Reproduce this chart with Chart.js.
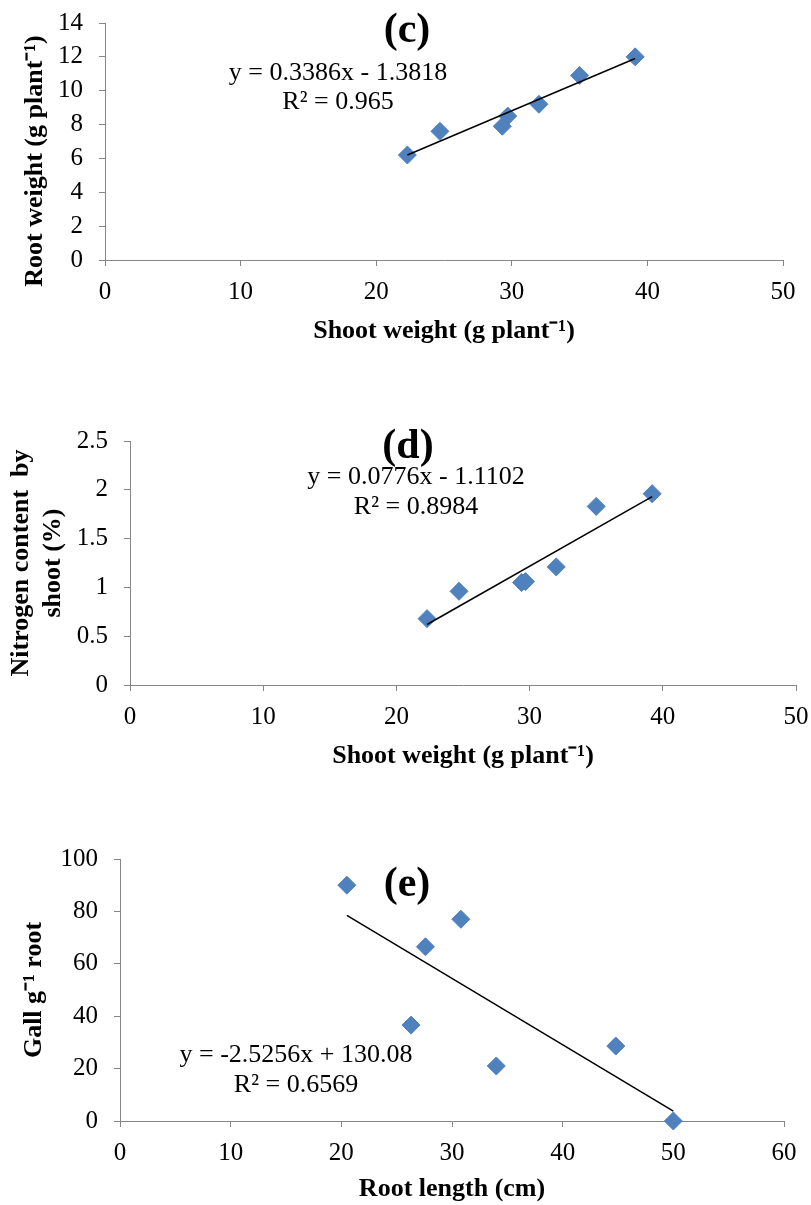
<!DOCTYPE html>
<html>
<head>
<meta charset="utf-8">
<title>Shoot / root relationships</title>
<script src="https://cdn.jsdelivr.net/npm/chart.js@4.4.1/dist/chart.umd.min.js"></script>
<style>
  html, body { margin: 0; padding: 0; background: #fff; overflow: hidden; }
  .panel { position: absolute; left: 0; width: 811px; }
</style>
</head>
<body>
<div class="panel" style="top:0;height:350px"><canvas id="chart-c"></canvas></div>
<div class="panel" style="top:400px;height:375px"><canvas id="chart-d"></canvas></div>
<div class="panel" style="top:830px;height:375px"><canvas id="chart-e"></canvas></div>
<script>
// --- DATA ---
// (c) root weight vs shoot weight
const shootWeightC = [22.3, 24.7, 29.3, 29.7, 32.0, 35.0, 39.1];
const rootWeightC  = [6.2, 7.6, 7.9, 8.5, 9.2, 10.9, 12.0];
const trendXC = [22.3, 39.1];
const trendYC = [6.2, 11.9];
const xTicksC = [0, 10, 20, 30, 40, 50];
const yTicksC = [0, 2, 4, 6, 8, 10, 12, 14];

// (d) nitrogen content vs shoot weight
const shootWeightD = [22.3, 24.7, 29.4, 29.7, 32.0, 35.0, 39.2];
const nitrogenD    = [0.68, 0.96, 1.05, 1.06, 1.21, 1.83, 1.96];
const trendXD = [22.3, 39.2];
const trendYD = [0.62, 1.93];
const xTicksD = [0, 10, 20, 30, 40, 50];
const yTicksD = [0, 0.5, 1, 1.5, 2, 2.5];

// (e) galls vs root length
const rootLengthE = [20.5, 26.3, 27.6, 30.8, 34.0, 44.8, 50.0];
const gallE       = [90, 36.6, 66.5, 77, 21, 28.6, 0];
const trendXE = [20.5, 50.0];
const trendYE = [78.5, 3.8];
const xTicksE = [0, 10, 20, 30, 40, 50, 60];
const yTicksE = [0, 20, 40, 60, 80, 100];

// --- STYLE ---
const SERIF = "'Liberation Serif', 'Times New Roman', serif";
const POINT_BLUE = '#4F81BD';
const AXIS_GREY = '#868686';

// draws the panel letter and the regression equation
const panelText = {
  id: 'panelText',
  afterDraw(chart, args, opts) {
    const ctx = chart.ctx;
    ctx.save();
    ctx.fillStyle = '#000';
    ctx.textAlign = 'center';
    ctx.textBaseline = 'middle';
    (opts.items || []).forEach(t => {
      ctx.font = t.font;
      ctx.fillText(t.text, t.x, t.y);
    });
    ctx.restore();
  }
};

function pairs(xs, ys) {
  return xs.map((x, i) => ({ x: x, y: ys[i] }));
}

function makeChart(id, cfg) {
  const ctx = document.getElementById(id).getContext('2d');
  return new Chart(ctx, {
    type: 'scatter',
    data: {
      datasets: [
        {
          type: 'line',
          data: pairs(cfg.trendX, cfg.trendY),
          borderColor: '#000',
          borderWidth: 1.5,
          pointRadius: 0,
          fill: false,
          clip: false
        },
        {
          data: pairs(cfg.xs, cfg.ys),
          pointStyle: 'rectRot',
          pointRadius: 9,
          backgroundColor: POINT_BLUE,
          borderColor: POINT_BLUE,
          borderWidth: 1,
          clip: false
        }
      ]
    },
    options: {
      responsive: true,
      maintainAspectRatio: false,
      devicePixelRatio: 1,
      animation: false,
      layout: { padding: { left: 0, top: cfg.padTop, right: cfg.padRight, bottom: 0 } },
      plugins: {
        legend: { display: false },
        tooltip: { enabled: false },
        panelText: { items: cfg.texts }
      },
      scales: {
        x: {
          type: 'linear',
          min: cfg.xTicks[0],
          max: cfg.xTicks[cfg.xTicks.length - 1],
          afterBuildTicks: s => { s.ticks = cfg.xTicks.map(v => ({ value: v })); },
          afterFit: s => { s.height = cfg.xHeight; s.paddingLeft = 0; s.paddingRight = 0; },
          grid: { drawOnChartArea: false, drawTicks: true, tickLength: 6, color: AXIS_GREY },
          border: { display: true, color: AXIS_GREY, width: 1 },
          ticks: {
            padding: 11,
            color: '#000',
            font: { family: SERIF, size: 25 },
            callback: v => String(v),
            autoSkip: false,
            maxRotation: 0
          },
          title: {
            display: true,
            text: cfg.xTitle,
            color: '#000',
            font: { family: SERIF, size: 26, weight: 'bold' },
            padding: { top: 0, bottom: cfg.xTitlePad }
          }
        },
        y: {
          type: 'linear',
          min: cfg.yTicks[0],
          max: cfg.yTicks[cfg.yTicks.length - 1],
          afterBuildTicks: s => { s.ticks = cfg.yTicks.map(v => ({ value: v })); },
          afterFit: s => { s.width = cfg.yWidth; s.paddingTop = 0; s.paddingBottom = 0; },
          grid: { drawOnChartArea: false, drawTicks: true, tickLength: 6, color: AXIS_GREY },
          border: { display: true, color: AXIS_GREY, width: 1 },
          ticks: {
            padding: 16,
            color: '#000',
            font: { family: SERIF, size: 25 },
            callback: v => String(v),
            autoSkip: false
          },
          title: {
            display: true,
            text: cfg.yTitle,
            color: '#000',
            font: { family: SERIF, size: 26, weight: 'bold' },
            padding: { top: cfg.yTitlePad, bottom: 0 }
          }
        }
      }
    },
    plugins: [panelText]
  });
}

Chart.defaults.font.family = SERIF;

makeChart('chart-c', {
  xs: shootWeightC, ys: rootWeightC, trendX: trendXC, trendY: trendYC,
  xTicks: xTicksC, yTicks: yTicksC,
  padTop: 23, padRight: 28, yWidth: 105, xHeight: 90, xTitlePad: 3, yTitlePad: 20,
  xTitle: 'Shoot weight (g plant\u207B\u00B9)',
  yTitle: 'Root weight (g plant\u207B\u00B9)\u00A0\u00A0\u00A0\u00A0\u00A0\u00A0',
  texts: [
    { text: '(c)', x: 407, y: 31, font: 'bold 42px ' + SERIF },
    { text: 'y = 0.3386x - 1.3818', x: 338, y: 73, font: '26px ' + SERIF },
    { text: 'R\u00B2 = 0.965', x: 338, y: 102, font: '26px ' + SERIF }
  ]
});

makeChart('chart-d', {
  xs: shootWeightD, ys: nitrogenD, trendX: trendXD, trendY: trendYD,
  xTicks: xTicksD, yTicks: yTicksD,
  padTop: 41, padRight: 15, yWidth: 130, xHeight: 90, xTitlePad: 3, yTitlePad: 6,
  xTitle: 'Shoot weight (g plant\u207B\u00B9)',
  yTitle: ['Nitrogen content  by', 'shoot (%)'],
  texts: [
    { text: '(d)', x: 408, y: 47, font: 'bold 42px ' + SERIF },
    { text: 'y = 0.0776x - 1.1102', x: 416, y: 77, font: '26px ' + SERIF },
    { text: 'R\u00B2 = 0.8984', x: 416, y: 107, font: '26px ' + SERIF }
  ]
});

makeChart('chart-e', {
  xs: rootLengthE, ys: gallE, trendX: trendXE, trendY: trendYE,
  xTicks: xTicksE, yTicks: yTicksE,
  padTop: 29, padRight: 27, yWidth: 120, xHeight: 84, xTitlePad: 0, yTitlePad: 19,
  xTitle: 'Root length (cm)',
  yTitle: 'Gall g\u207B\u00B9 root',
  texts: [
    { text: '(e)', x: 407, y: 55, font: 'bold 42px ' + SERIF },
    { text: 'y = -2.5256x + 130.08', x: 296, y: 225, font: '26px ' + SERIF },
    { text: 'R\u00B2 = 0.6569', x: 296, y: 255, font: '26px ' + SERIF }
  ]
});
</script>
</body>
</html>
